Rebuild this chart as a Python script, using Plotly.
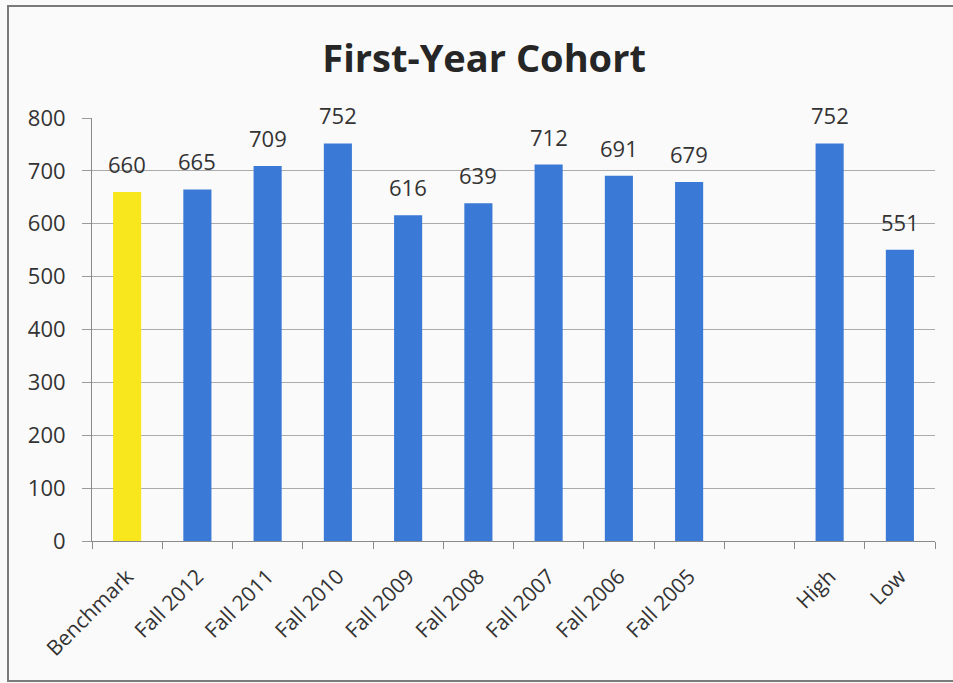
import plotly.graph_objects as go

# Cohort categories (blank slot separates the yearly cohorts from High/Low)
categories = ["Benchmark", "Fall 2012", "Fall 2011", "Fall 2010", "Fall 2009",
              "Fall 2008", "Fall 2007", "Fall 2006", "Fall 2005", " ", "High", "Low"]
values = [660, 665, 709, 752, 616, 639, 712, 691, 679, None, 752, 551]
bar_colors = ["#F8E71C"] + ["#3A79D6"] * 11
y_ticks = [0, 100, 200, 300, 400, 500, 600, 700, 800]

FONT = "Open Sans, Liberation Sans, sans-serif"
TEXT = "#333333"

fig = go.Figure(go.Bar(
    x=categories,
    y=values,
    width=0.4,
    marker=dict(color=bar_colors, line=dict(width=0)),
))

# value labels floating above each bar
for cat, v in zip(categories, values):
    if v is None:
        continue
    fig.add_annotation(x=cat, y=v, text=str(v), showarrow=False,
                       yanchor="bottom", yshift=11,
                       font=dict(family=FONT, size=22, color=TEXT))

fig.update_layout(
    width=953, height=683,
    margin=dict(l=92, r=18, t=118, b=142),
    paper_bgcolor="#FAFAFA",
    plot_bgcolor="#FAFAFA",
    showlegend=False,
    title=dict(text="<b>First-Year Cohort</b>", x=0.508, xanchor="center",
               y=0.914, yanchor="middle",
               font=dict(family=FONT, size=38, color="#262626")),
    font=dict(family=FONT, size=20, color=TEXT),
    xaxis=dict(
        type="category",
        tickangle=-45,
        ticks="outside", tickson="boundaries", ticklen=7,
        tickcolor="#8a8a8a",
        showline=True, linecolor="#8a8a8a", linewidth=1,
        showgrid=False,
        ticklabelstandoff=14,
        tickfont=dict(family=FONT, size=21, color=TEXT),
    ),
    yaxis=dict(
        range=[0, 800],
        tickvals=y_ticks,
        ticks="outside", ticklen=9, tickcolor="#9a9a9a",
        showline=True, linecolor="#8a8a8a", linewidth=1,
        gridcolor="#ababab", gridwidth=1,
        zeroline=False,
        ticklabelstandoff=12,
        tickfont=dict(family=FONT, size=22, color=TEXT),
    ),
    shapes=[dict(type="rect", xref="paper", yref="paper",
                 x0=-84/843, x1=1 + 30/843, y0=-140/423, y1=1 + 112/423,
                 line=dict(color="#7a7a7a", width=2), fillcolor="rgba(0,0,0,0)")],
)

fig.write_html("out.html")
